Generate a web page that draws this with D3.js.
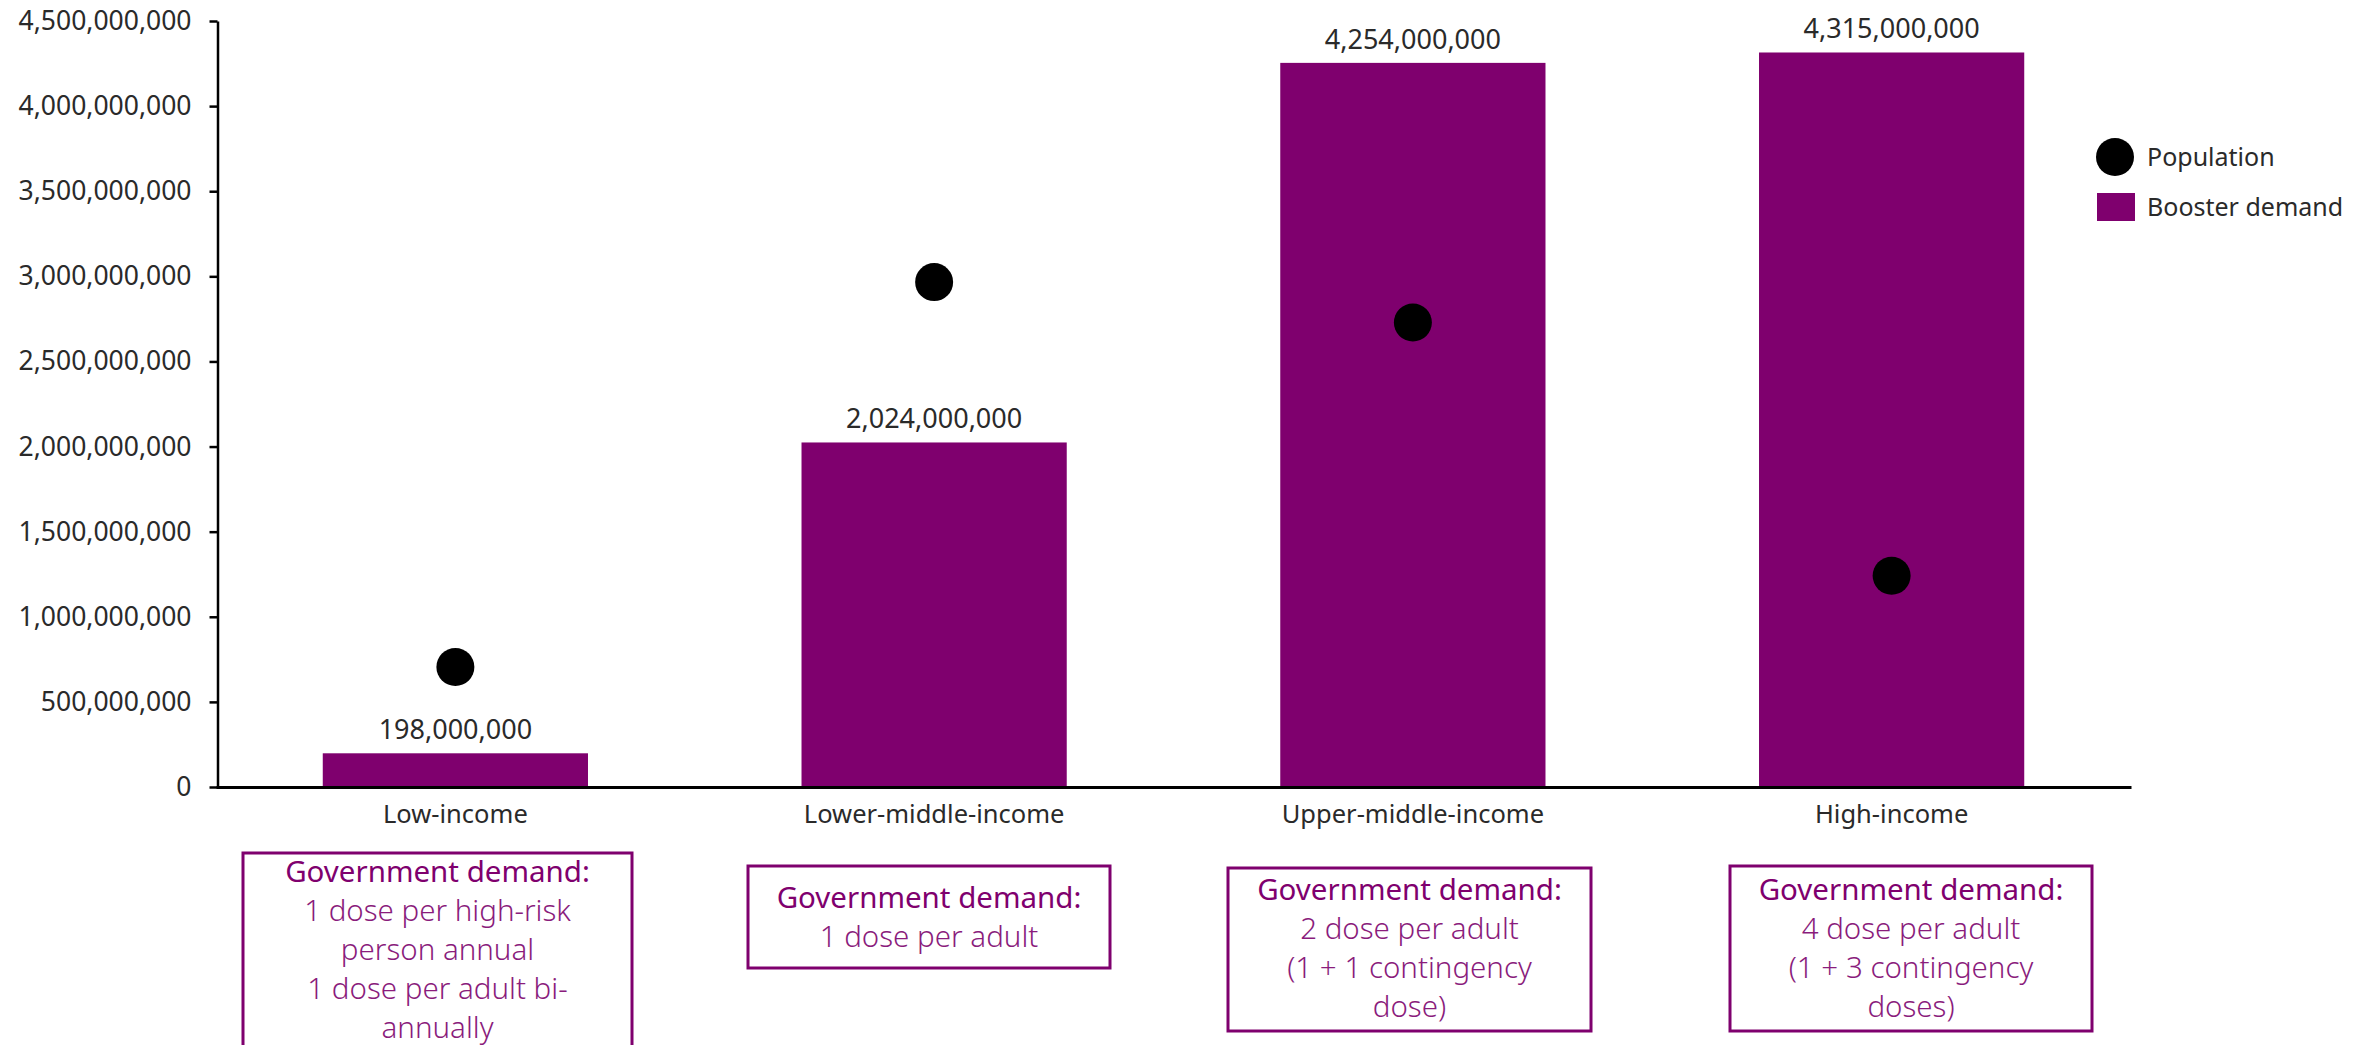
<!DOCTYPE html>
<html>
<head>
<meta charset="utf-8">
<script src="https://cdn.jsdelivr.net/npm/d3@7"></script>
<style>
  body { margin: 0; background: #fff; }
  text { font-family: "Noto Sans", sans-serif; }
</style>
</head>
<body>
<div id="container"></div>
<script>
  // data
  const categories = ["Low-income", "Lower-middle-income", "Upper-middle-income", "High-income"];
  const boosterDemand = [198000000, 2024000000, 4254000000, 4315000000];
  const population = [705000000, 2966000000, 2729000000, 1241000000];
  const yTicks = [0, 500000000, 1000000000, 1500000000, 2000000000, 2500000000, 3000000000, 3500000000, 4000000000, 4500000000];
  const noteTitles = ["Government demand:", "Government demand:", "Government demand:", "Government demand:"];
  const noteLines = [
    ["1 dose per high-risk", "person annual", "1 dose per adult bi-", "annually"],
    ["1 dose per adult"],
    ["2 dose per adult", "(1 + 1 contingency", "dose)"],
    ["4 dose per adult", "(1 + 3 contingency", "doses)"]
  ];
  const legendLabels = ["Population", "Booster demand"];

  // layout
  const width = 2369;
  const height = 1045;
  const purple = "#7f006e";
  const textColor = "#2a2a2a";
  // note boxes: [left, top, width, height, first line center y]
  const noteBoxes = [
    [243, 853, 389, 220, 872],
    [748, 866, 362, 102, 898],
    [1228, 868, 363, 163, 890],
    [1730, 866, 362, 165, 890]
  ];
  const lineStep = 39;

  const svg = d3.create("svg")
    .attr("width", width)
    .attr("height", height);

  const x = d3.scaleBand()
    .domain(categories)
    .range([216, 2131])
    .paddingInner(0.446)
    .paddingOuter(0.223);

  const y = d3.scaleLinear()
    .domain([0, 4500000000])
    .range([787, 21]);

  // bars
  svg.append("g")
    .selectAll("rect")
    .data(categories)
    .join("rect")
    .attr("x", d => x(d))
    .attr("y", (d, i) => y(boosterDemand[i]))
    .attr("width", x.bandwidth())
    .attr("height", (d, i) => y(0) - y(boosterDemand[i]))
    .attr("fill", purple);

  // bar value labels
  svg.append("g")
    .selectAll("text")
    .data(categories)
    .join("text")
    .attr("x", d => x(d) + x.bandwidth() / 2)
    .attr("y", (d, i) => y(boosterDemand[i]) - 14)
    .attr("text-anchor", "middle")
    .attr("font-size", 27)
    .attr("fill", textColor)
    .text((d, i) => d3.format(",")(boosterDemand[i]));

  // population dots
  svg.append("g")
    .selectAll("circle")
    .data(categories)
    .join("circle")
    .attr("cx", d => x(d) + x.bandwidth() / 2)
    .attr("cy", (d, i) => y(population[i]))
    .attr("r", 19)
    .attr("fill", "#000");

  // y axis
  const yAxis = svg.append("g")
    .attr("transform", "translate(217.5,0)")
    .call(d3.axisLeft(y)
      .tickValues(yTicks)
      .tickFormat(d3.format(","))
      .tickSize(8)
      .tickSizeOuter(0)
      .tickPadding(18));
  yAxis.select(".domain").attr("stroke", "#000").attr("stroke-width", 2.5);
  yAxis.selectAll(".tick line").attr("stroke", "#000").attr("stroke-width", 2.5);
  yAxis.selectAll(".tick text")
    .attr("font-size", 26.5)
    .attr("font-family", "Noto Sans, sans-serif")
    .attr("fill", textColor);

  // x axis
  const xAxis = svg.append("g")
    .attr("transform", `translate(0,${y(0)})`)
    .call(d3.axisBottom(x).tickSize(0).tickPadding(18));
  xAxis.select(".domain").attr("stroke", "#000").attr("stroke-width", 3);
  xAxis.selectAll(".tick text")
    .attr("font-size", 25.5)
    .attr("font-family", "Noto Sans, sans-serif")
    .attr("fill", textColor);

  // note boxes
  const notes = svg.append("g")
    .selectAll("g")
    .data(categories)
    .join("g");

  notes.append("rect")
    .attr("x", (d, i) => noteBoxes[i][0])
    .attr("y", (d, i) => noteBoxes[i][1])
    .attr("width", (d, i) => noteBoxes[i][2])
    .attr("height", (d, i) => noteBoxes[i][3])
    .attr("fill", "none")
    .attr("stroke", purple)
    .attr("stroke-width", 3);

  notes.append("text")
    .attr("x", (d, i) => noteBoxes[i][0] + noteBoxes[i][2] / 2)
    .attr("y", (d, i) => noteBoxes[i][4])
    .attr("dy", "0.35em")
    .attr("text-anchor", "middle")
    .attr("font-size", 29.5)
    .attr("fill", purple)
    .text((d, i) => noteTitles[i]);

  notes.each(function (d, i) {
    const b = noteBoxes[i];
    d3.select(this).selectAll("text.line")
      .data(noteLines[i])
      .join("text")
      .attr("class", "line")
      .attr("x", b[0] + b[2] / 2)
      .attr("y", (t, j) => b[4] + lineStep * (j + 1))
      .attr("dy", "0.35em")
      .attr("text-anchor", "middle")
      .attr("font-size", 29.5)
      .attr("font-weight", 300)
      .attr("fill", "#8a1c7c")
      .text(t => t);
  });

  // legend
  const legend = svg.append("g");
  legend.append("circle")
    .attr("cx", 2115)
    .attr("cy", 157)
    .attr("r", 19)
    .attr("fill", "#000");
  legend.append("rect")
    .attr("x", 2097)
    .attr("y", 193)
    .attr("width", 38)
    .attr("height", 28)
    .attr("fill", purple);
  legend.selectAll("text")
    .data(legendLabels)
    .join("text")
    .attr("x", 2147)
    .attr("y", (d, i) => 157 + i * 50)
    .attr("dy", "0.35em")
    .attr("font-size", 25)
    .attr("fill", textColor)
    .text(d => d);

  container.appendChild(svg.node());
</script>
</body>
</html>
